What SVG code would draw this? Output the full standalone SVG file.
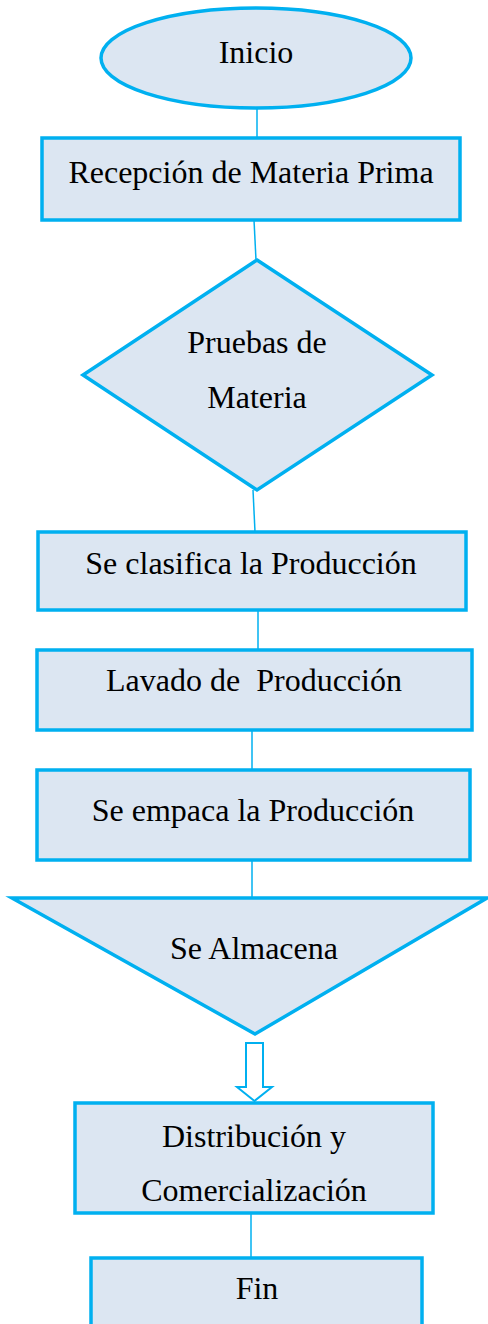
<svg xmlns="http://www.w3.org/2000/svg" width="488" height="1324" viewBox="0 0 488 1324">
<style>
.s{fill:#DCE6F2;stroke:#00B0F0;stroke-width:3.5}
.t{font-family:"Liberation Serif","Times New Roman",serif;font-size:32px;fill:#000;text-anchor:middle}
.c{stroke:#00B0F0;stroke-width:1.5;fill:none}
</style>
<rect width="488" height="1324" fill="#fff"/>
<g id="connectors">
<line class="c" x1="257" y1="108" x2="257" y2="138"/>
<line class="c" x1="254" y1="220" x2="256" y2="260"/>
<line class="c" x1="253" y1="490" x2="255" y2="532"/>
<line class="c" x1="258" y1="610" x2="258" y2="650"/>
<line class="c" x1="252" y1="730" x2="252" y2="770"/>
<line class="c" x1="252" y1="860" x2="252" y2="898"/>
<path d="M246,1043 H263 V1087 H272 L254.5,1101 L237,1087 H246 Z" fill="#fff" stroke="#00B0F0" stroke-width="2"/>
<line class="c" x1="251" y1="1213" x2="251" y2="1258"/>
</g>
<g id="inicio">
<ellipse class="s" cx="256" cy="58" rx="155" ry="50"/>
<text class="t" x="256" y="63">Inicio</text>
</g>
<g id="recepcion">
<rect class="s" x="42" y="138" width="418" height="82"/>
<text class="t" x="251" y="183">Recepción de Materia Prima</text>
</g>
<g id="pruebas">
<polygon class="s" points="257,260 432,375 257,490 83,375"/>
<text class="t" x="257" y="353">Pruebas de</text>
<text class="t" x="257" y="408">Materia</text>
</g>
<g id="clasifica">
<rect class="s" x="38" y="532" width="428" height="78"/>
<text class="t" x="251" y="574">Se clasifica la Producción</text>
</g>
<g id="lavado">
<rect class="s" x="37" y="650" width="435" height="80"/>
<text class="t" x="254" y="691" xml:space="preserve">Lavado de  Producción</text>
</g>
<g id="empaca">
<rect class="s" x="37" y="770" width="433" height="90"/>
<text class="t" x="253" y="821">Se empaca la Producción</text>
</g>
<g id="almacena">
<polygon class="s" points="12,898 487,898 255,1034"/>
<text class="t" x="254" y="959">Se Almacena</text>
</g>
<g id="distribucion">
<rect class="s" x="75" y="1103" width="358" height="110"/>
<text class="t" x="254" y="1147">Distribución y</text>
<text class="t" x="254" y="1201">Comercialización</text>
</g>
<g id="fin">
<rect class="s" x="91" y="1258" width="331" height="80"/>
<text class="t" x="257" y="1299">Fin</text>
</g>
</svg>
